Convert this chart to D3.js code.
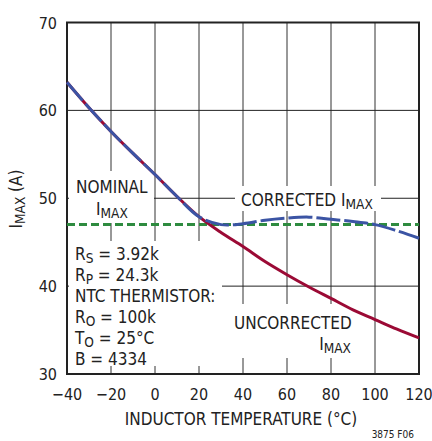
<!DOCTYPE html>
<html>
<head>
<meta charset="utf-8">
<script src="https://cdn.jsdelivr.net/npm/d3@7"></script>
<style>
  body { margin: 0; background: #fff; }
  svg { display: block; font-family: "Liberation Sans Narrow", "DejaVu Sans Condensed", sans-serif; }
</style>
</head>
<body>
<div id="root"></div>
<script>
// temperatures (°C)
const temps = [-40, -30, -20, -10, 0, 10, 20, 30, 40, 50, 60, 70, 80, 90, 100, 110, 120];
const uncorrected = [63.2, 60.3, 57.6, 55.1, 52.7, 50.2, 47.9, 46.1, 44.5, 42.8, 41.3, 39.9, 38.6, 37.3, 36.2, 35.1, 34.1];
const corrected = [63.2, 60.3, 57.6, 55.1, 52.7, 50.2, 47.9, 47.0, 47.1, 47.5, 47.75, 47.85, 47.6, 47.35, 47.0, 46.3, 45.45];
const nominal = 47;
const xTicks = [-40, -20, 0, 20, 40, 60, 80, 100, 120];
const yTicks = [30, 40, 50, 60, 70];

const width = 432;
const height = 441;
const fs = 17;
const tickFs = 16;

const svg = d3.select("#root")
  .append("svg")
  .attr("width", width)
  .attr("height", height);

const x = d3.scaleLinear().domain([-40, 120]).range([67, 419]);
const y = d3.scaleLinear().domain([30, 70]).range([374, 22.5]);

// grid
svg.append("g")
  .selectAll("line")
  .data(xTicks.slice(1, -1))
  .join("line")
  .attr("x1", (d) => x(d)).attr("x2", (d) => x(d))
  .attr("y1", y(70)).attr("y2", y(30))
  .attr("stroke", "#333").attr("stroke-width", 1);

svg.append("g")
  .selectAll("line")
  .data(yTicks.slice(1, -1))
  .join("line")
  .attr("x1", x(-40)).attr("x2", x(120))
  .attr("y1", (d) => y(d)).attr("y2", (d) => y(d))
  .attr("stroke", "#222").attr("stroke-width", 1);

// white boxes behind the annotations
const boxes = [
  [69, 171, 85, 52],   // nominal
  [69, 241, 153, 125], // parameters
  [235, 186, 146, 25], // corrected
  [229, 304, 127, 54], // uncorrected
];
svg.append("g")
  .selectAll("rect")
  .data(boxes)
  .join("rect")
  .attr("x", (d) => d[0]).attr("y", (d) => d[1])
  .attr("width", (d) => d[2]).attr("height", (d) => d[3])
  .attr("fill", "#fff");

// frame
svg.append("rect")
  .attr("x", x(-40)).attr("y", y(70))
  .attr("width", x(120) - x(-40)).attr("height", y(30) - y(70))
  .attr("fill", "none").attr("stroke", "#222").attr("stroke-width", 2);

// tick labels
svg.append("g")
  .selectAll("text")
  .data(yTicks)
  .join("text")
  .attr("x", 57).attr("y", (d) => y(d) + 6)
  .attr("text-anchor", "end")
  .attr("font-size", tickFs).attr("fill", "#222")
  .text((d) => d);

svg.append("g")
  .selectAll("text")
  .data(xTicks)
  .join("text")
  .attr("x", (d) => x(d)).attr("y", 400)
  .attr("text-anchor", "middle")
  .attr("font-size", tickFs).attr("fill", "#222")
  .text((d) => (d < 0 ? "\u2212" + Math.abs(d) : d));

// lines
svg.append("line")
  .attr("x1", x(-40)).attr("x2", x(120))
  .attr("y1", y(nominal)).attr("y2", y(nominal))
  .attr("stroke", "#2e8b3f").attr("stroke-width", 3)
  .attr("stroke-dasharray", "8,4");

const line = (vals) => d3.line()
  .x((d, i) => x(temps[i]))
  .y((d) => y(d))
  .curve(d3.curveCatmullRom)(vals);

svg.append("path")
  .attr("d", line(uncorrected))
  .attr("fill", "none").attr("stroke", "#9b0a35").attr("stroke-width", 3);

svg.append("path")
  .attr("d", line(corrected))
  .attr("fill", "none").attr("stroke", "#3b54a4").attr("stroke-width", 3)
  .attr("stroke-dasharray", "24,4");

// annotation text
function sub(x0, y0, main, subText, anchor) {
  const t = svg.append("text")
    .attr("x", x0).attr("y", y0)
    .attr("font-size", fs).attr("fill", "#222")
    .attr("text-anchor", anchor || "start");
  t.append("tspan").text(main);
  t.append("tspan").attr("font-size", fs * 0.8).attr("dy", 3).text(subText);
  return t;
}
function sub3(x0, y0, main, subText, rest) {
  const t = sub(x0, y0, main, subText);
  t.append("tspan").attr("dy", -3).text(rest);
}

svg.append("text").attr("x", 76).attr("y", 193)
  .attr("font-size", fs).attr("fill", "#222").text("NOMINAL");
sub(96, 215, "I", "MAX");

sub3(75, 260, "R", "S", " = 3.92k");
sub3(75, 281, "R", "P", " = 24.3k");
svg.append("text").attr("x", 75).attr("y", 302)
  .attr("font-size", fs).attr("fill", "#222").text("NTC THERMISTOR:");
sub3(75, 323, "R", "O", " = 100k");
sub3(75, 344, "T", "O", " = 25°C");
svg.append("text").attr("x", 75).attr("y", 365)
  .attr("font-size", fs).attr("fill", "#222").text("B = 4334");

sub(241, 206, "CORRECTED I", "MAX");

svg.append("text").attr("x", 234).attr("y", 329)
  .attr("font-size", fs).attr("fill", "#222").text("UNCORRECTED");
sub(351, 350, "I", "MAX", "end");

// axis titles
svg.append("text").attr("x", 241).attr("y", 425)
  .attr("text-anchor", "middle")
  .attr("font-size", fs).attr("fill", "#222")
  .text("INDUCTOR TEMPERATURE (°C)");

const yt = svg.append("text")
  .attr("transform", "translate(22,199) rotate(-90)")
  .attr("text-anchor", "middle")
  .attr("font-size", fs).attr("fill", "#222");
yt.append("tspan").text("I");
yt.append("tspan").attr("font-size", fs * 0.8).attr("dy", 3).text("MAX");
yt.append("tspan").attr("dy", -3).text(" (A)");

svg.append("text").attr("x", 414).attr("y", 438)
  .attr("text-anchor", "end")
  .attr("font-size", 10).attr("fill", "#222")
  .text("3875 F06");
</script>
</body>
</html>
